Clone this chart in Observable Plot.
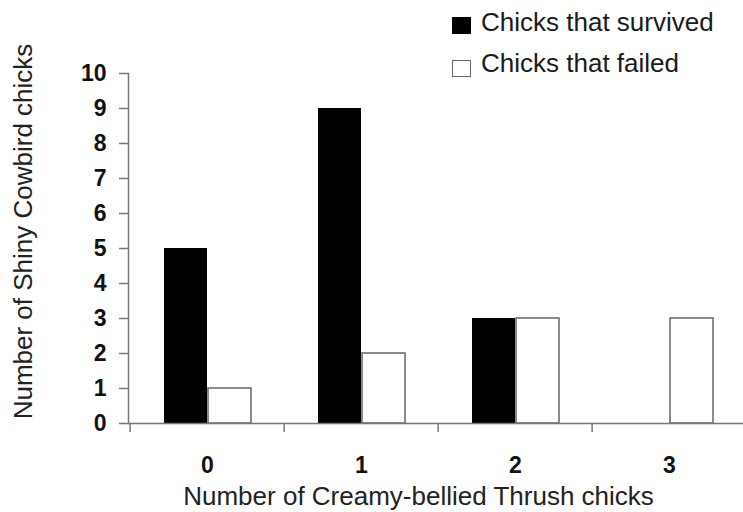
<!DOCTYPE html>
<html><head><meta charset="utf-8">
<script src="https://cdn.jsdelivr.net/npm/d3@7"></script>
<script src="https://cdn.jsdelivr.net/npm/@observablehq/plot@0.6"></script>
<style>
body{margin:0;background:#fff;font-family:"Liberation Sans",Arial,sans-serif;}
#wrap{position:relative;width:743px;height:512px;overflow:hidden;}
.sw{position:absolute;width:19px;height:17px;box-sizing:border-box;}
.lt{position:absolute;font-size:26px;line-height:26px;color:#1a1a1a;white-space:nowrap;}
</style></head>
<body><div id="wrap"></div>
<script>
const categories = ["0", "1", "2", "3"];
const survived = [5, 9, 3, 0];
const failed = [1, 2, 3, 3];
const seriesNames = ["Chicks that survived", "Chicks that failed"];
const yTicks = [0, 1, 2, 3, 4, 5, 6, 7, 8, 9, 10];
const xTitle = "Number of Creamy-bellied Thrush chicks";
const yTitle = "Number of Shiny Cowbird chicks";

const rows = categories.map((c, i) => ({category: c, survived: survived[i], failed: failed[i]}));

const chart = Plot.plot({
  width: 743,
  height: 512,
  marginLeft: 128,
  marginRight: 0,
  marginTop: 73,
  marginBottom: 89,
  style: {fontFamily: "Liberation Sans, Arial, sans-serif", background: "#fff"},
  x: {domain: categories, range: [128, 747], padding: 0, axis: null},
  y: {domain: [0, 10], axis: null},
  marks: [
    Plot.barY(rows, {x: "category", y: "survived", fill: "#000", insetLeft: 34, insetRight: 77}),
    Plot.barY(rows, {x: "category", y: "failed", fill: "#fff", stroke: "#666", strokeWidth: 1.5, insetLeft: 78, insetRight: 33}),
    Plot.ruleY([0], {stroke: "#777", strokeWidth: 1.5}),
    Plot.frame({anchor: "left", stroke: "#777", strokeWidth: 1.5}),
    Plot.axisY({ticks: yTicks, tickSize: 9, tickPadding: 13, stroke: "#777", strokeWidth: 1.5, fill: "#111", fontSize: 23, fontWeight: "bold", label: null}),
    Plot.axisX({tickSize: 0, tickPadding: 33, fill: "#111", fontSize: 23, fontWeight: "bold", label: null}),
    Plot.axisX({tickSize: 9, tickFormat: () => "", dx: -77.375, stroke: "#777", strokeWidth: 1.5, label: null}),
    Plot.text([yTitle], {frameAnchor: "left", textAnchor: "middle", lineAnchor: "middle", rotate: -90, dx: -104.5, dy: -17, fontSize: 26, fill: "#222"}),
    Plot.text([xTitle], {frameAnchor: "bottom", textAnchor: "middle", lineAnchor: "middle", dx: -17.5, dy: 73, fontSize: 26, fill: "#222"})
  ]
});

const wrap = document.getElementById("wrap");
wrap.appendChild(chart);

const legendSpec = [
  {name: seriesNames[0], fill: "#000", border: "none"},
  {name: seriesNames[1], fill: "#fff", border: "1.5px solid #666"}
];
const swTops = [17, 60];
const txtTops = [9, 50];
legendSpec.forEach((s, i) => {
  const sw = document.createElement("div");
  sw.className = "sw";
  sw.style.left = "452px";
  sw.style.top = swTops[i] + "px";
  sw.style.background = s.fill;
  sw.style.border = s.border;
  wrap.appendChild(sw);
  const t = document.createElement("div");
  t.className = "lt";
  t.style.left = "481px";
  t.style.top = txtTops[i] + "px";
  t.textContent = s.name;
  wrap.appendChild(t);
});
chart.style.position = "absolute";
chart.style.left = "0";
chart.style.top = "0";
</script>
</body></html>
